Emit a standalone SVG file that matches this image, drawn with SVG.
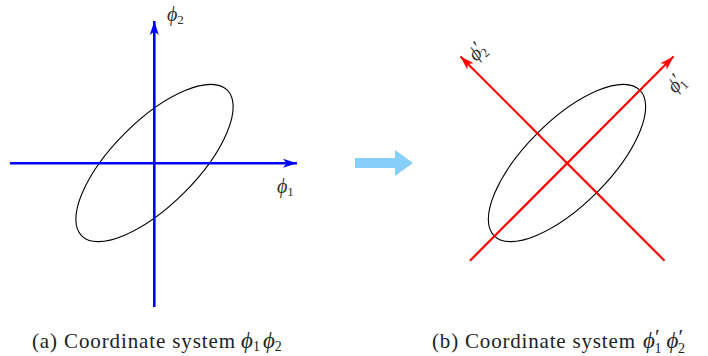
<svg xmlns="http://www.w3.org/2000/svg" width="708" height="356" viewBox="0 0 708 356">
  <style>
    .ell { fill: none; stroke: #000; stroke-width: 1.1; }
    .blue { stroke: #0000FF; stroke-width: 2.6; fill: none; }
    .red { stroke: #FF0000; stroke-width: 2.2; fill: none; }
    .lbl { font-family: "Liberation Serif", "DejaVu Serif", serif; font-style: italic; font-size: 20px; fill: #333; }
    .sub { font-style: normal; font-size: 13px; }
    .pr { font-style: normal; font-size: 20px; }
    .cap { font-family: "Liberation Serif", "DejaVu Serif", serif; font-size: 21px; fill: #222; }
    .capm { font-family: "Liberation Serif", "DejaVu Serif", serif; font-style: italic; font-size: 23px; fill: #222; }
    .capsub { font-style: normal; font-size: 14px; }
    .cappr { font-style: normal; font-size: 21px; }
  </style>
  <defs>
    <marker id="ahBlue" markerUnits="userSpaceOnUse" orient="auto" markerWidth="16" markerHeight="12" refX="0" refY="0" viewBox="-15 -6 16 12" overflow="visible">
      <path d="M0,0 L-14,-4.5 L-10.5,0 L-14,4.5 Z" fill="#0000FF"/>
    </marker>
    <marker id="ahRed" markerUnits="userSpaceOnUse" orient="auto" markerWidth="16" markerHeight="12" refX="0" refY="0" viewBox="-15 -6 16 12" overflow="visible">
      <path d="M0,0 L-14,-4.5 L-10.5,0 L-14,4.5 Z" fill="#FF0000"/>
    </marker>
  </defs>

  <g id="panel-a">
    <ellipse id="ellipse-a" class="ell" cx="154.5" cy="163" rx="103" ry="42" transform="rotate(-45 154.5 163)"/>
    <g id="connectors-a">
      <line class="blue" x1="154.3" y1="307" x2="154.3" y2="21" marker-end="url(#ahBlue)"/>
      <line class="blue" x1="10" y1="163.3" x2="297" y2="163.3" marker-end="url(#ahBlue)"/>
    </g>
    <text id="label-phi2" class="lbl" x="167" y="21">ϕ<tspan class="sub" dy="3">2</tspan></text>
    <text id="label-phi1" class="lbl" x="277" y="193">ϕ<tspan class="sub" dy="3">1</tspan></text>
  </g>

  <g id="transform-arrow">
    <path d="M355,158 L395,158 L395,150 L413,163 L395,176 L395,168 L355,168 Z" fill="#87CEFA"/>
  </g>

  <g id="panel-b">
    <ellipse id="ellipse-b" class="ell" cx="567" cy="163" rx="103" ry="42" transform="rotate(-45 567 163)"/>
    <g id="connectors-b">
      <line class="red" x1="470" y1="260.7" x2="673.5" y2="56.5" marker-end="url(#ahRed)"/>
      <line class="red" x1="664.5" y1="260.7" x2="460.5" y2="56.5" marker-end="url(#ahRed)"/>
    </g>
    <text id="label-phi2p" class="lbl" transform="translate(476 62) rotate(-45)">ϕ<tspan class="pr" dx="0" dy="-3">′</tspan><tspan class="sub" dx="-5" dy="7">2</tspan></text>
    <text id="label-phi1p" class="lbl" transform="translate(675 94) rotate(-45)">ϕ<tspan class="pr" dx="0" dy="-3">′</tspan><tspan class="sub" dx="-5" dy="7">1</tspan></text>
  </g>

  <g id="captions">
    <g id="caption-a">
      <text class="cap" x="32" y="348" textLength="203" lengthAdjust="spacing">(a) Coordinate system</text>
      <text class="capm" x="241" y="348">ϕ<tspan class="capsub" dy="3">1</tspan><tspan dx="3" dy="-3">ϕ</tspan><tspan class="capsub" dy="3">2</tspan></text>
    </g>
    <g id="caption-b">
      <text class="cap" x="432" y="348" textLength="203" lengthAdjust="spacing">(b) Coordinate system</text>
      <text class="capm" x="643" y="348">ϕ<tspan class="cappr" dy="-4">′</tspan><tspan class="capsub" dx="-5" dy="9">1</tspan><tspan dx="5" dy="-5">ϕ</tspan><tspan class="cappr" dy="-4">′</tspan><tspan class="capsub" dx="-5" dy="9">2</tspan></text>
    </g>
  </g>
</svg>
